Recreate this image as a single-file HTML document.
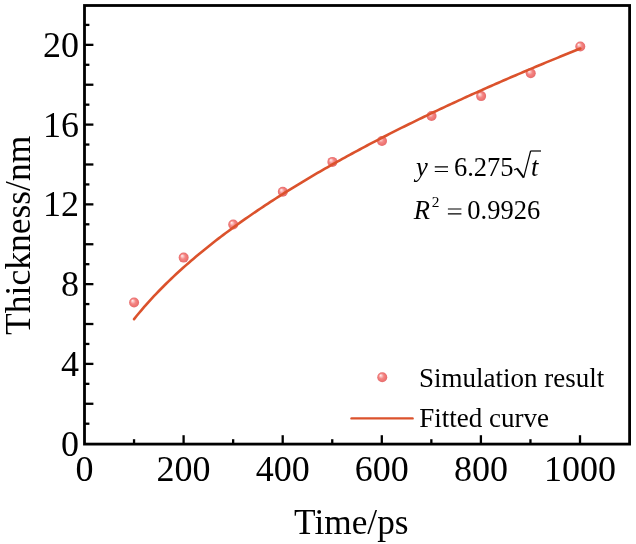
<!DOCTYPE html>
<html><head><meta charset="utf-8"><style>
html,body{margin:0;padding:0;background:#fff;}
svg{display:block;will-change:transform;}
text{font-family:"Liberation Serif",serif;fill:#000;}
</style></head><body>
<svg width="636" height="544" viewBox="0 0 636 544">
<defs>
<radialGradient id="ball" cx="0.5" cy="0.5" r="0.5" fx="0.32" fy="0.3">
<stop offset="0" stop-color="#fff2f2"/>
<stop offset="0.22" stop-color="#fbc6c6"/>
<stop offset="0.5" stop-color="#f38886"/>
<stop offset="0.8" stop-color="#ef7472"/>
<stop offset="1" stop-color="#e26e70"/>
</radialGradient>
</defs>
<rect width="636" height="544" fill="#fff"/>
<circle cx="134.08" cy="302.48" r="5.0" fill="url(#ball)"/>
<circle cx="183.66" cy="257.61" r="5.0" fill="url(#ball)"/>
<circle cx="233.24" cy="224.51" r="5.0" fill="url(#ball)"/>
<circle cx="282.82" cy="191.81" r="5.0" fill="url(#ball)"/>
<circle cx="332.40" cy="161.90" r="5.0" fill="url(#ball)"/>
<circle cx="381.98" cy="140.96" r="5.0" fill="url(#ball)"/>
<circle cx="431.56" cy="116.04" r="5.0" fill="url(#ball)"/>
<circle cx="481.14" cy="96.10" r="5.0" fill="url(#ball)"/>
<circle cx="530.72" cy="73.17" r="5.0" fill="url(#ball)"/>
<circle cx="580.30" cy="46.45" r="5.0" fill="url(#ball)"/>
<path d="M134.08,319.13 L136.56,316.04 L139.04,313.02 L141.52,310.07 L144.00,307.18 L146.47,304.36 L148.95,301.59 L151.43,298.87 L153.91,296.20 L156.39,293.58 L158.87,291.01 L161.35,288.47 L163.83,285.98 L166.31,283.53 L168.79,281.11 L171.26,278.73 L173.74,276.38 L176.22,274.06 L178.70,271.78 L181.18,269.52 L183.66,267.30 L186.14,265.10 L188.62,262.93 L191.10,260.78 L193.58,258.66 L196.06,256.56 L198.53,254.49 L201.01,252.44 L203.49,250.41 L205.97,248.40 L208.45,246.41 L210.93,244.44 L213.41,242.49 L215.89,240.56 L218.37,238.65 L220.84,236.76 L223.32,234.88 L225.80,233.02 L228.28,231.17 L230.76,229.34 L233.24,227.53 L235.72,225.73 L238.20,223.95 L240.68,222.18 L243.16,220.42 L245.64,218.68 L248.11,216.95 L250.59,215.24 L253.07,213.53 L255.55,211.84 L258.03,210.17 L260.51,208.50 L262.99,206.84 L265.47,205.20 L267.95,203.57 L270.43,201.95 L272.90,200.34 L275.38,198.74 L277.86,197.15 L280.34,195.57 L282.82,194.00 L285.30,192.44 L287.78,190.89 L290.26,189.35 L292.74,187.82 L295.22,186.30 L297.69,184.79 L300.17,183.28 L302.65,181.79 L305.13,180.30 L307.61,178.82 L310.09,177.35 L312.57,175.89 L315.05,174.44 L317.53,172.99 L320.00,171.55 L322.48,170.12 L324.96,168.69 L327.44,167.28 L329.92,165.87 L332.40,164.47 L334.88,163.07 L337.36,161.68 L339.84,160.30 L342.32,158.92 L344.80,157.56 L347.27,156.19 L349.75,154.84 L352.23,153.49 L354.71,152.15 L357.19,150.81 L359.67,149.48 L362.15,148.15 L364.63,146.83 L367.11,145.52 L369.59,144.21 L372.06,142.91 L374.54,141.62 L377.02,140.33 L379.50,139.04 L381.98,137.76 L384.46,136.49 L386.94,135.22 L389.42,133.95 L391.90,132.69 L394.38,131.44 L396.85,130.19 L399.33,128.95 L401.81,127.71 L404.29,126.48 L406.77,125.25 L409.25,124.02 L411.73,122.80 L414.21,121.59 L416.69,120.38 L419.17,119.17 L421.64,117.97 L424.12,116.77 L426.60,115.58 L429.08,114.39 L431.56,113.20 L434.04,112.02 L436.52,110.85 L439.00,109.68 L441.48,108.51 L443.96,107.34 L446.43,106.18 L448.91,105.03 L451.39,103.88 L453.87,102.73 L456.35,101.59 L458.83,100.44 L461.31,99.31 L463.79,98.18 L466.27,97.05 L468.75,95.92 L471.22,94.80 L473.70,93.68 L476.18,92.57 L478.66,91.45 L481.14,90.35 L483.62,89.24 L486.10,88.14 L488.58,87.04 L491.06,85.95 L493.54,84.86 L496.01,83.77 L498.49,82.69 L500.97,81.61 L503.45,80.53 L505.93,79.46 L508.41,78.38 L510.89,77.32 L513.37,76.25 L515.85,75.19 L518.33,74.13 L520.80,73.07 L523.28,72.02 L525.76,70.97 L528.24,69.92 L530.72,68.88 L533.20,67.84 L535.68,66.80 L538.16,65.76 L540.64,64.73 L543.12,63.70 L545.59,62.67 L548.07,61.65 L550.55,60.63 L553.03,59.61 L555.51,58.59 L557.99,57.58 L560.47,56.57 L562.95,55.56 L565.43,54.56 L567.90,53.55 L570.38,52.55 L572.86,51.55 L575.34,50.56 L577.82,49.57 L580.30,48.57" fill="none" stroke="#db522c" stroke-width="2.6" stroke-linecap="round" stroke-linejoin="round"/>
<g stroke="#000" stroke-width="2.3">
<line x1="84.50" y1="423.71" x2="89.40" y2="423.71"/>
<line x1="84.50" y1="403.77" x2="93.40" y2="403.77"/>
<line x1="84.50" y1="383.83" x2="89.40" y2="383.83"/>
<line x1="84.50" y1="363.89" x2="93.40" y2="363.89"/>
<line x1="84.50" y1="343.95" x2="89.40" y2="343.95"/>
<line x1="84.50" y1="324.01" x2="93.40" y2="324.01"/>
<line x1="84.50" y1="304.07" x2="89.40" y2="304.07"/>
<line x1="84.50" y1="284.13" x2="93.40" y2="284.13"/>
<line x1="84.50" y1="264.19" x2="89.40" y2="264.19"/>
<line x1="84.50" y1="244.25" x2="93.40" y2="244.25"/>
<line x1="84.50" y1="224.31" x2="89.40" y2="224.31"/>
<line x1="84.50" y1="204.37" x2="93.40" y2="204.37"/>
<line x1="84.50" y1="184.43" x2="89.40" y2="184.43"/>
<line x1="84.50" y1="164.49" x2="93.40" y2="164.49"/>
<line x1="84.50" y1="144.55" x2="89.40" y2="144.55"/>
<line x1="84.50" y1="124.61" x2="93.40" y2="124.61"/>
<line x1="84.50" y1="104.67" x2="89.40" y2="104.67"/>
<line x1="84.50" y1="84.73" x2="93.40" y2="84.73"/>
<line x1="84.50" y1="64.79" x2="89.40" y2="64.79"/>
<line x1="84.50" y1="44.85" x2="93.40" y2="44.85"/>
<line x1="84.50" y1="24.91" x2="89.40" y2="24.91"/>
<line x1="134.05" y1="444.10" x2="134.05" y2="439.20"/>
<line x1="183.60" y1="444.10" x2="183.60" y2="435.20"/>
<line x1="233.15" y1="444.10" x2="233.15" y2="439.20"/>
<line x1="282.70" y1="444.10" x2="282.70" y2="435.20"/>
<line x1="332.25" y1="444.10" x2="332.25" y2="439.20"/>
<line x1="381.80" y1="444.10" x2="381.80" y2="435.20"/>
<line x1="431.35" y1="444.10" x2="431.35" y2="439.20"/>
<line x1="480.90" y1="444.10" x2="480.90" y2="435.20"/>
<line x1="530.45" y1="444.10" x2="530.45" y2="439.20"/>
<line x1="580.00" y1="444.10" x2="580.00" y2="435.20"/>
</g>
<rect x="84.5" y="5.5" width="545.1" height="438.6" fill="none" stroke="#000" stroke-width="2.8"/>
<g font-size="36">
<text x="79.1" y="455.65" text-anchor="end">0</text>
<text x="79.1" y="375.89" text-anchor="end">4</text>
<text x="79.1" y="296.13" text-anchor="end">8</text>
<text x="79.1" y="216.37" text-anchor="end">12</text>
<text x="79.1" y="136.61" text-anchor="end">16</text>
<text x="79.1" y="56.85" text-anchor="end">20</text>
<text x="84.50" y="480.7" text-anchor="middle">0</text>
<text x="183.60" y="480.7" text-anchor="middle">200</text>
<text x="282.70" y="480.7" text-anchor="middle">400</text>
<text x="381.80" y="480.7" text-anchor="middle">600</text>
<text x="480.90" y="480.7" text-anchor="middle">800</text>
<text x="580.00" y="480.7" text-anchor="middle">1000</text>
</g>
<text font-size="35.5" transform="translate(30.2,334.9) rotate(-90)">Thickness/nm</text>
<text font-size="35.3" x="294.1" y="533.8">Time/ps</text>
<circle cx="382.25" cy="377.2" r="5.0" fill="url(#ball)"/>
<line x1="351.5" y1="418.4" x2="412.6" y2="418.4" stroke="#db522c" stroke-width="2.4" stroke-linecap="round"/>
<g font-size="27">
<text x="419.1" y="386.6">Simulation result</text>
<text x="419.2" y="427.0">Fitted curve</text>
</g>
<g font-size="26.5">
<text x="416.0" y="176.3" font-style="italic">y</text>
<text x="453.9" y="176.3">6.275</text>
<text x="531.0" y="176.3" font-style="italic">t</text>
<text x="413.74" y="218.5" font-style="italic">R</text>
<text x="431.8" y="207.0" font-size="15.4">2</text>
<text x="467.3" y="218.8">0.9926</text>
</g>
<g stroke="#000" stroke-width="1.2" fill="none">
<path d="M434.8,166.8H448M434.8,171.5H448"/>
<path d="M447.9,209H461.4M447.9,213.9H461.4"/>
<path d="M514.2,170 L517,168.4" />
<path d="M530.5,151 H541" />
<path d="M523.7,177.6 L530.6,151" />
<path d="M517,168.4 L523.7,177.6" stroke-width="2"/>
</g>
</svg>
</body></html>
